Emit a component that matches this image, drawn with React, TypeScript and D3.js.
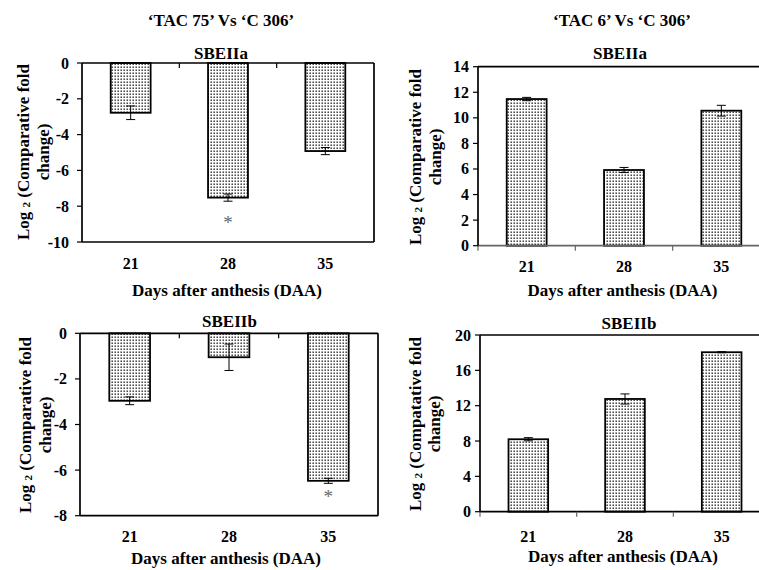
import React from "react";
import * as d3 from "d3";

// ---------- data ----------
const categories = ["21", "28", "35"];

const sectionTitles = ["\u2018TAC 75\u2019 Vs \u2018C 306\u2019", "\u2018TAC 6\u2019 Vs \u2018C 306\u2019"];
const geneTitles = ["SBEIIa", "SBEIIa", "SBEIIb", "SBEIIb"];
const xAxisTitle = "Days after anthesis (DAA)";
const yTitleSecondLine = "change)";
const yTitleWords = ["(Comparative fold", "(Comparative fold", "(Comparative fold", "(Compatative fold"];

const tac75SBEIIa = [-2.78, -7.52, -4.92];
const tac75SBEIIaErr = [0.38, 0.2, 0.2];
const tac75SBEIIaSig = [null, -8.75, null];

const tac6SBEIIa = [11.47, 5.92, 10.56];
const tac6SBEIIaErr = [0.13, 0.2, 0.42];
const tac6SBEIIaSig = [null, null, null];

const tac75SBEIIb = [-2.96, -1.05, -6.47];
const tac75SBEIIbErr = [0.17, 0.58, 0.11];
const tac75SBEIIbSig = [null, null, -7.05];

const tac6SBEIIb = [8.2, 12.76, 18.05];
const tac6SBEIIbErr = [0.18, 0.57, 0.06];
const tac6SBEIIbSig = [null, null, null];

const domains: [number, number][] = [[-10, 0], [0, 14], [-8, 0], [0, 20]];
const tickSteps = [2, 2, 2, 4];

// ---------- layout ----------
const FONT = "'Liberation Serif', 'Times New Roman', serif";

type Panel = {
  x0: number; x1: number; yTop: number; yBot: number;
  domain: [number, number]; step: number;
  values: number[]; errs: number[]; sig: (number | null)[];
  title: string; titleX: number; titleY: number;
  yWord: string; yl1: number; yl2: number; ylCY: number;
  tickGap: number; catLabelY: number; xTitleX: number; xTitleY: number;
  bottomColor: string;
};

const panels: Panel[] = [
  {
    x0: 82, x1: 374, yTop: 63, yBot: 242, domain: domains[0], step: tickSteps[0],
    values: tac75SBEIIa, errs: tac75SBEIIaErr, sig: tac75SBEIIaSig,
    title: geneTitles[0], titleX: 221, titleY: 53,
    yWord: yTitleWords[0], yl1: 23, yl2: 43, ylCY: 152,
    tickGap: 13, catLabelY: 263, xTitleX: 227, xTitleY: 290, bottomColor: "#000",
  },
  {
    x0: 478, x1: 770, yTop: 66.7, yBot: 245.7, domain: domains[1], step: tickSteps[1],
    values: tac6SBEIIa, errs: tac6SBEIIaErr, sig: tac6SBEIIaSig,
    title: geneTitles[1], titleX: 620, titleY: 53,
    yWord: yTitleWords[1], yl1: 415, yl2: 435, ylCY: 157,
    tickGap: 9, catLabelY: 266.5, xTitleX: 622.5, xTitleY: 290, bottomColor: "#666",
  },
  {
    x0: 80, x1: 378, yTop: 333.3, yBot: 515.7, domain: domains[2], step: tickSteps[2],
    values: tac75SBEIIb, errs: tac75SBEIIbErr, sig: tac75SBEIIbSig,
    title: geneTitles[2], titleX: 229.5, titleY: 321.7,
    yWord: yTitleWords[2], yl1: 25, yl2: 45, ylCY: 425,
    tickGap: 13, catLabelY: 536.7, xTitleX: 226, xTitleY: 558.3, bottomColor: "#000",
  },
  {
    x0: 480, x1: 770, yTop: 335, yBot: 511.7, domain: domains[3], step: tickSteps[3],
    values: tac6SBEIIb, errs: tac6SBEIIbErr, sig: tac6SBEIIbSig,
    title: geneTitles[3], titleX: 629, titleY: 323.3,
    yWord: yTitleWords[3], yl1: 415, yl2: 434, ylCY: 424,
    tickGap: 9, catLabelY: 536.7, xTitleX: 623, xTitleY: 556.7, bottomColor: "#000",
  },
];

function ChartPanel({ p }: { p: Panel }) {
  const x = d3.scaleBand<string>().domain(categories).range([p.x0, p.x1]).paddingInner(0.59).paddingOuter(0.295);
  const y = d3.scaleLinear().domain(p.domain).range([p.yBot, p.yTop]);
  const ticks = d3.range(p.domain[0], p.domain[1] + p.step / 2, p.step);
  const negative = p.domain[1] <= 0;
  const baseY = y(0);
  const stepW = x.step();
  const bounds = d3.range(0, categories.length + 1).map((i) => p.x0 + stepW * i);
  const cap = 4.5;
  return (
    <g>
      {p.values.map((v, i) => {
        const c = categories[i];
        const bx = x(c)!;
        const yv = y(v);
        return (
          <rect key={"b" + i} x={bx} y={Math.min(yv, baseY)} width={x.bandwidth()} height={Math.abs(yv - baseY)}
            fill={`url(#dots)`} stroke="#000" strokeWidth={1.8} />
        );
      })}
      {p.values.map((v, i) => {
        const cx = x(categories[i])! + x.bandwidth() / 2;
        const y1 = y(v - p.errs[i]);
        const y2 = y(v + p.errs[i]);
        return (
          <g key={"e" + i} stroke="#000" strokeWidth={1}>
            <line x1={cx} x2={cx} y1={y1} y2={y2} />
            <line x1={cx - cap} x2={cx + cap} y1={y1} y2={y1} />
            <line x1={cx - cap} x2={cx + cap} y1={y2} y2={y2} />
          </g>
        );
      })}
      {p.sig.map((s, i) =>
        s === null ? null : (
          <text key={"s" + i} x={x(categories[i])! + x.bandwidth() / 2} y={y(s) + 9} textAnchor="middle"
            fontFamily={FONT} fontSize={19} fill="#666">*</text>
        )
      )}
      <line x1={p.x0} x2={p.x1} y1={p.yTop} y2={p.yTop} stroke="#000" strokeWidth={1.7} />
      <line x1={p.x1} x2={p.x1} y1={p.yTop} y2={p.yBot} stroke="#000" strokeWidth={1.7} />
      <line x1={p.x0} x2={p.x1} y1={p.yBot} y2={p.yBot} stroke={p.bottomColor} strokeWidth={1.7} />
      <line x1={p.x0} x2={p.x0} y1={p.yTop} y2={p.yBot} stroke="#000" strokeWidth={1.7} />
      {bounds.map((bx, i) =>
        negative ? (
          i > 0 && i < categories.length ? (
            <line key={"t" + i} x1={bx} x2={bx} y1={baseY} y2={baseY + 5} stroke="#000" strokeWidth={1.2} />
          ) : null
        ) : (
          <line key={"t" + i} x1={bx} x2={bx} y1={baseY} y2={baseY + 5} stroke="#666" strokeWidth={1.2} />
        )
      )}
      {ticks.map((t) => (
        <g key={"y" + t}>
          <line x1={p.x0 - 5} x2={p.x0} y1={y(t)} y2={y(t)} stroke="#000" strokeWidth={1.2} />
          <text x={p.x0 - p.tickGap} y={y(t)} textAnchor="end" dominantBaseline="central"
            fontFamily={FONT} fontWeight="bold" fontSize={16} fill="#000">{t}</text>
        </g>
      ))}
      {categories.map((c) => (
        <text key={"c" + c} x={x(c)! + x.bandwidth() / 2} y={p.catLabelY} textAnchor="middle" dominantBaseline="central"
          fontFamily={FONT} fontWeight="bold" fontSize={16} fill="#000">{c}</text>
      ))}
      <text x={p.titleX} y={p.titleY} textAnchor="middle" dominantBaseline="central"
        fontFamily={FONT} fontWeight="bold" fontSize={17} fill="#000">{p.title}</text>
      <text x={p.xTitleX} y={p.xTitleY} textAnchor="middle" dominantBaseline="central"
        fontFamily={FONT} fontWeight="bold" fontSize={17} fill="#000">{xAxisTitle}</text>
      <text transform={`translate(${p.yl1},${p.ylCY}) rotate(-90)`} textAnchor="middle" dominantBaseline="central"
        fontFamily={FONT} fontWeight="bold" fontSize={17} fill="#000">
        Log <tspan fontSize={11} dy={3}>2</tspan><tspan dy={-3}> {p.yWord}</tspan>
      </text>
      <text transform={`translate(${p.yl2},${p.ylCY}) rotate(-90)`} textAnchor="middle" dominantBaseline="central"
        fontFamily={FONT} fontWeight="bold" fontSize={17} fill="#000">{yTitleSecondLine}</text>
    </g>
  );
}

export default function App() {
  return (
    <svg width={759} height={570} style={{ position: "absolute", left: 0, top: 0, background: "#fff" }}>
      <defs>
        <pattern id="dots" width={3} height={3} patternUnits="userSpaceOnUse">
          <rect width={3} height={3} fill="#fff" />
          <rect x={0.5} y={0.5} width={1.4} height={1.4} fill="#222" />
        </pattern>
      </defs>
      <rect width={759} height={570} fill="#fff" />
      <text x={221} y={20} textAnchor="middle" dominantBaseline="central" fontFamily={FONT} fontWeight="bold" fontSize={17} fill="#000">{sectionTitles[0]}</text>
      <text x={622} y={20} textAnchor="middle" dominantBaseline="central" fontFamily={FONT} fontWeight="bold" fontSize={17} fill="#000">{sectionTitles[1]}</text>
      {panels.map((p, i) => (
        <ChartPanel key={i} p={p} />
      ))}
    </svg>
  );
}
